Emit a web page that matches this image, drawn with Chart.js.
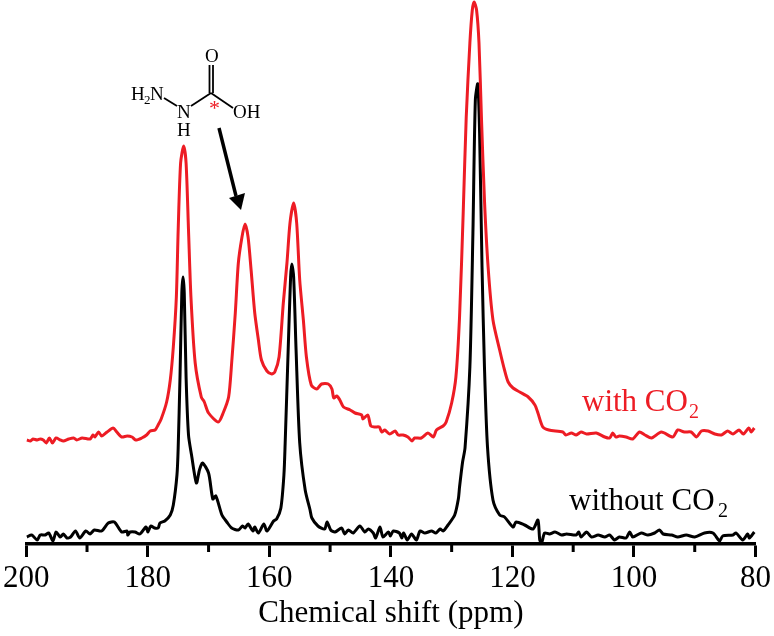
<!DOCTYPE html>
<html>
<head>
<meta charset="utf-8">
<title>Chemical shift</title>
<script src="https://cdn.jsdelivr.net/npm/chart.js@4.4.1/dist/chart.umd.min.js"></script>
<style>
    html, body { margin: 0; padding: 0; background: #fff; }
    canvas { display: block; }
</style>
</head>
<body>
<canvas id="nmr" width="774" height="636"></canvas>
<script>
/*
        13C NMR spectra with and without CO2.
    Values, intensity is in arbitrary units.
*/

const redShift = [199.9,199.3,198.9,198.2,197.7,197.2,196.7,196.2,195.7,195.1,194.4,193.9,193.0,192.2,191.7,190.8,189.5,189.0,188.7,188.1,187.6,186.7,185.7,185.1,184.3,183.4,182.6,182.0,181.0,180.2,179.6,178.8,178.3,177.8,176.9,176.3,175.8,175.3,175.0,174.6,174.1,173.7,173.3,172.9,172.2,171.2,170.7,170.0,168.4,167.6,166.7,166.2,165.6,165.1,164.5,164.0,163.5,163.0,162.4,161.8,161.3,160.4,159.6,159.1,158.4,157.7,157.1,156.6,156.0,155.5,155.0,154.4,153.9,153.1,152.2,151.4,150.3,149.7,149.4,148.9,148.4,147.8,146.7,145.9,144.8,144.6,143.8,143.3,142.6,141.9,141.5,141.0,140.2,139.3,138.8,138.0,137.2,136.5,136.1,135.0,133.9,133.0,132.5,131.4,130.9,130.0,129.3,128.7,128.1,127.6,127.0,126.6,126.3,125.9,125.5,125.1,124.6,124.0,123.2,122.1,121.3,120.7,119.9,118.8,117.4,116.3,115.8,115.0,114.0,111.7,111.2,110.3,109.5,108.7,107.8,106.2,104.8,104.0,103.5,103.0,102.4,101.3,100.2,99.1,98.2,97.1,95.5,93.6,92.8,91.7,90.6,89.7,88.9,87.8,86.7,85.6,84.6,83.7,82.7,82.0,81.1,80.7,80.2];
const redValues = [104,103,105,104,105,104,101,106,101,106,104,103,105,106,104,106,105,109,107,112,108,112,116,112,107,108,107,104,106,109,113,114,119,125,142,164,197,247,314,381,398,381,314,247,181,147,142,131,122,131,147,181,231,281,307,320,307,274,231,204,184,173,170,172,187,241,281,321,341,321,264,224,187,159,155,160,160,155,146,148,144,137,134,131,129,125,129,118,117,117,112,114,110,113,109,109,107,103,106,106,111,107,114,118,122,141,167,227,331,427,501,534,542,534,501,427,344,277,224,194,174,162,156,152,147,139,131,117,114,112,109,111,109,112,110,111,107,106,111,107,108,107,105,112,109,106,112,107,114,112,112,107,113,113,110,109,113,110,114,110,116,112,116];

const blackShift = [199.9,199.1,198.2,197.7,196.9,196.3,195.6,195.1,194.4,193.9,193.3,192.7,191.9,191.2,190.2,189.5,188.8,187.6,186.5,185.5,184.3,183.4,183.3,182.9,182.1,181.3,180.3,180.0,179.5,178.9,178.3,178.0,177.2,176.3,175.8,175.2,175.0,174.7,174.4,174.2,174.0,173.7,173.3,172.8,172.0,171.5,171.0,170.0,169.3,168.8,167.8,167.0,166.2,165.1,164.4,164.0,163.5,162.7,162.4,161.8,160.9,160.4,159.3,158.8,158.1,157.6,157.4,156.9,156.5,156.3,156.0,155.6,155.0,154.1,153.3,153.0,152.0,150.9,150.5,149.9,149.2,148.1,147.6,147.0,146.2,145.1,144.3,143.7,142.9,142.5,141.8,141.3,140.4,140.1,139.6,138.6,138.2,137.9,137.3,136.6,135.8,135.2,134.4,133.3,132.6,131.9,131.4,130.6,129.5,128.9,128.7,128.2,127.8,127.0,126.5,126.1,125.7,125.4,125.0,124.6,124.1,123.2,122.1,121.3,119.9,119.4,118.0,116.6,115.8,115.5,115.2,114.7,113.9,113.0,111.9,111.1,109.5,109.1,108.7,107.8,107.0,105.9,104.8,104.0,103.2,102.4,101.3,100.7,100.2,98.8,97.7,96.6,95.8,95.2,93.8,92.8,91.4,90.0,88.4,87.0,85.9,85.4,83.7,83.2,82.1,81.3,81.0,80.2];
const blackValues = [7,9,4,9,9,11,3,12,7,10,6,7,13,6,13,10,14,13,21,22,12,13,9,12,12,10,17,12,18,16,16,21,23,29,39,69,96,167,251,267,251,167,109,89,61,74,81,71,45,48,29,22,16,14,18,16,20,13,17,11,20,13,23,25,36,69,100,194,267,280,267,194,101,54,34,26,18,15,22,14,12,16,10,14,11,18,12,15,11,6,17,7,12,8,13,11,6,11,4,10,4,13,11,13,11,15,13,19,29,45,57,82,96,177,311,444,460,411,277,177,97,44,29,27,17,22,19,15,24,4,1,11,10,12,9,10,9,12,7,12,7,9,7,9,4,7,6,12,7,11,9,11,14,10,9,7,9,7,11,11,3,8,9,11,4,10,6,12];

const minorTicks = [190, 170, 150, 130, 110, 90];
const seriesRed = "with CO";
const seriesBlack = "without CO";
const xAxisLabel = "Chemical shift (ppm)";

const serif = "'Liberation Serif', 'Times New Roman', serif";
const red = "#ed1c24";

// Pair shift with value for the scatter-type line
function toPoints(shift, values) {
    return shift.map((s, i) => ({ x: s, y: values[i] }));
}

function putText(ctx, text, x, y, size, color) {
    ctx.font = size + "px " + serif;
    ctx.fillStyle = color;
    ctx.fillText(text, x, y);
}

function line(ctx, x1, y1, x2, y2, width) {
    ctx.lineWidth = width;
    ctx.beginPath();
    ctx.moveTo(x1, y1);
    ctx.lineTo(x2, y2);
    ctx.stroke();
}

// Minor ticks between the labelled ones
const minorTickPlugin = {
    id: "minorTicks",
    afterDraw(chart) {
        const ctx = chart.ctx;
        const scale = chart.scales.x;
        ctx.save();
        ctx.strokeStyle = "#000";
        minorTicks.forEach((v) => {
            const px = scale.getPixelForValue(v);
            line(ctx, px, scale.top, px, scale.top + 8, 3);
        });
        ctx.restore();
    }
};

// Series labels, the molecule and its arrow
const notesPlugin = {
    id: "notes",
    afterDraw(chart) {
        const ctx = chart.ctx;
        ctx.save();
        ctx.textAlign = "left";
        ctx.textBaseline = "alphabetic";

        putText(ctx, seriesRed, 582, 411, 31, red);
        putText(ctx, "2", 689, 418, 20, red);
        putText(ctx, seriesBlack, 569, 510, 31, "#000");
        putText(ctx, "2", 718, 517, 20, "#000");

        putText(ctx, "H", 131, 100, 19, "#000");
        putText(ctx, "2", 144, 104, 13, "#000");
        putText(ctx, "N", 150, 100, 19, "#000");
        putText(ctx, "N", 177, 118, 19, "#000");
        putText(ctx, "H", 177, 136, 19, "#000");
        putText(ctx, "O", 205, 62, 19, "#000");
        putText(ctx, "OH", 233, 118, 19, "#000");
        putText(ctx, "*", 209, 115, 22, red);

        ctx.strokeStyle = "#000";
        line(ctx, 164, 98, 177, 106, 1.8);
        line(ctx, 191, 106, 211, 93, 1.8);
        line(ctx, 209.5, 93, 209.5, 65, 1.8);
        line(ctx, 213, 93, 213, 65, 1.8);
        line(ctx, 211, 93, 233, 108, 1.8);

        line(ctx, 219, 128, 236, 196, 3.5);
        ctx.fillStyle = "#000";
        ctx.beginPath();
        ctx.moveTo(241, 210);
        ctx.lineTo(229, 198);
        ctx.lineTo(245, 193);
        ctx.closePath();
        ctx.fill();
        ctx.restore();
    }
};

new Chart(document.getElementById("nmr").getContext("2d"), {
    type: "line",
    plugins: [minorTickPlugin, notesPlugin],
    data: {
        datasets: [
            {
                label: seriesRed,
                data: toPoints(redShift, redValues),
                borderColor: red,
                borderWidth: 3,
                pointRadius: 0,
                tension: 0.25,
                clip: false,
            },
            {
                label: seriesBlack,
                data: toPoints(blackShift, blackValues),
                borderColor: "#000",
                borderWidth: 3,
                pointRadius: 0,
                tension: 0.25,
                clip: false,
            },
        ],
    },
    options: {
        responsive: false,
        animation: false,
        layout: { padding: { left: 26, right: 18, top: 0, bottom: 0 } },
        plugins: {
            legend: { display: false },
            tooltip: { enabled: false },
        },
        scales: {
            x: {
                type: "linear",
                reverse: true,
                min: 80,
                max: 200,
                afterFit(scale) { scale.height = 92; },
                border: { color: "#000", width: 3.5 },
                grid: { drawOnChartArea: false, tickLength: 13, tickWidth: 3, tickColor: "#000" },
                ticks: {
                    stepSize: 20,
                    color: "#000",
                    padding: 3,
                    maxRotation: 0,
                    autoSkip: false,
                    font: { family: serif, size: 31 },
                },
                title: {
                    display: true,
                    text: xAxisLabel,
                    color: "#000",
                    padding: { top: 0, bottom: 4 },
                    font: { family: serif, size: 31 },
                },
            },
            y: {
                display: false,
                min: 0,
                max: 544,
            },
        },
    },
});
</script>
</body>
</html>
